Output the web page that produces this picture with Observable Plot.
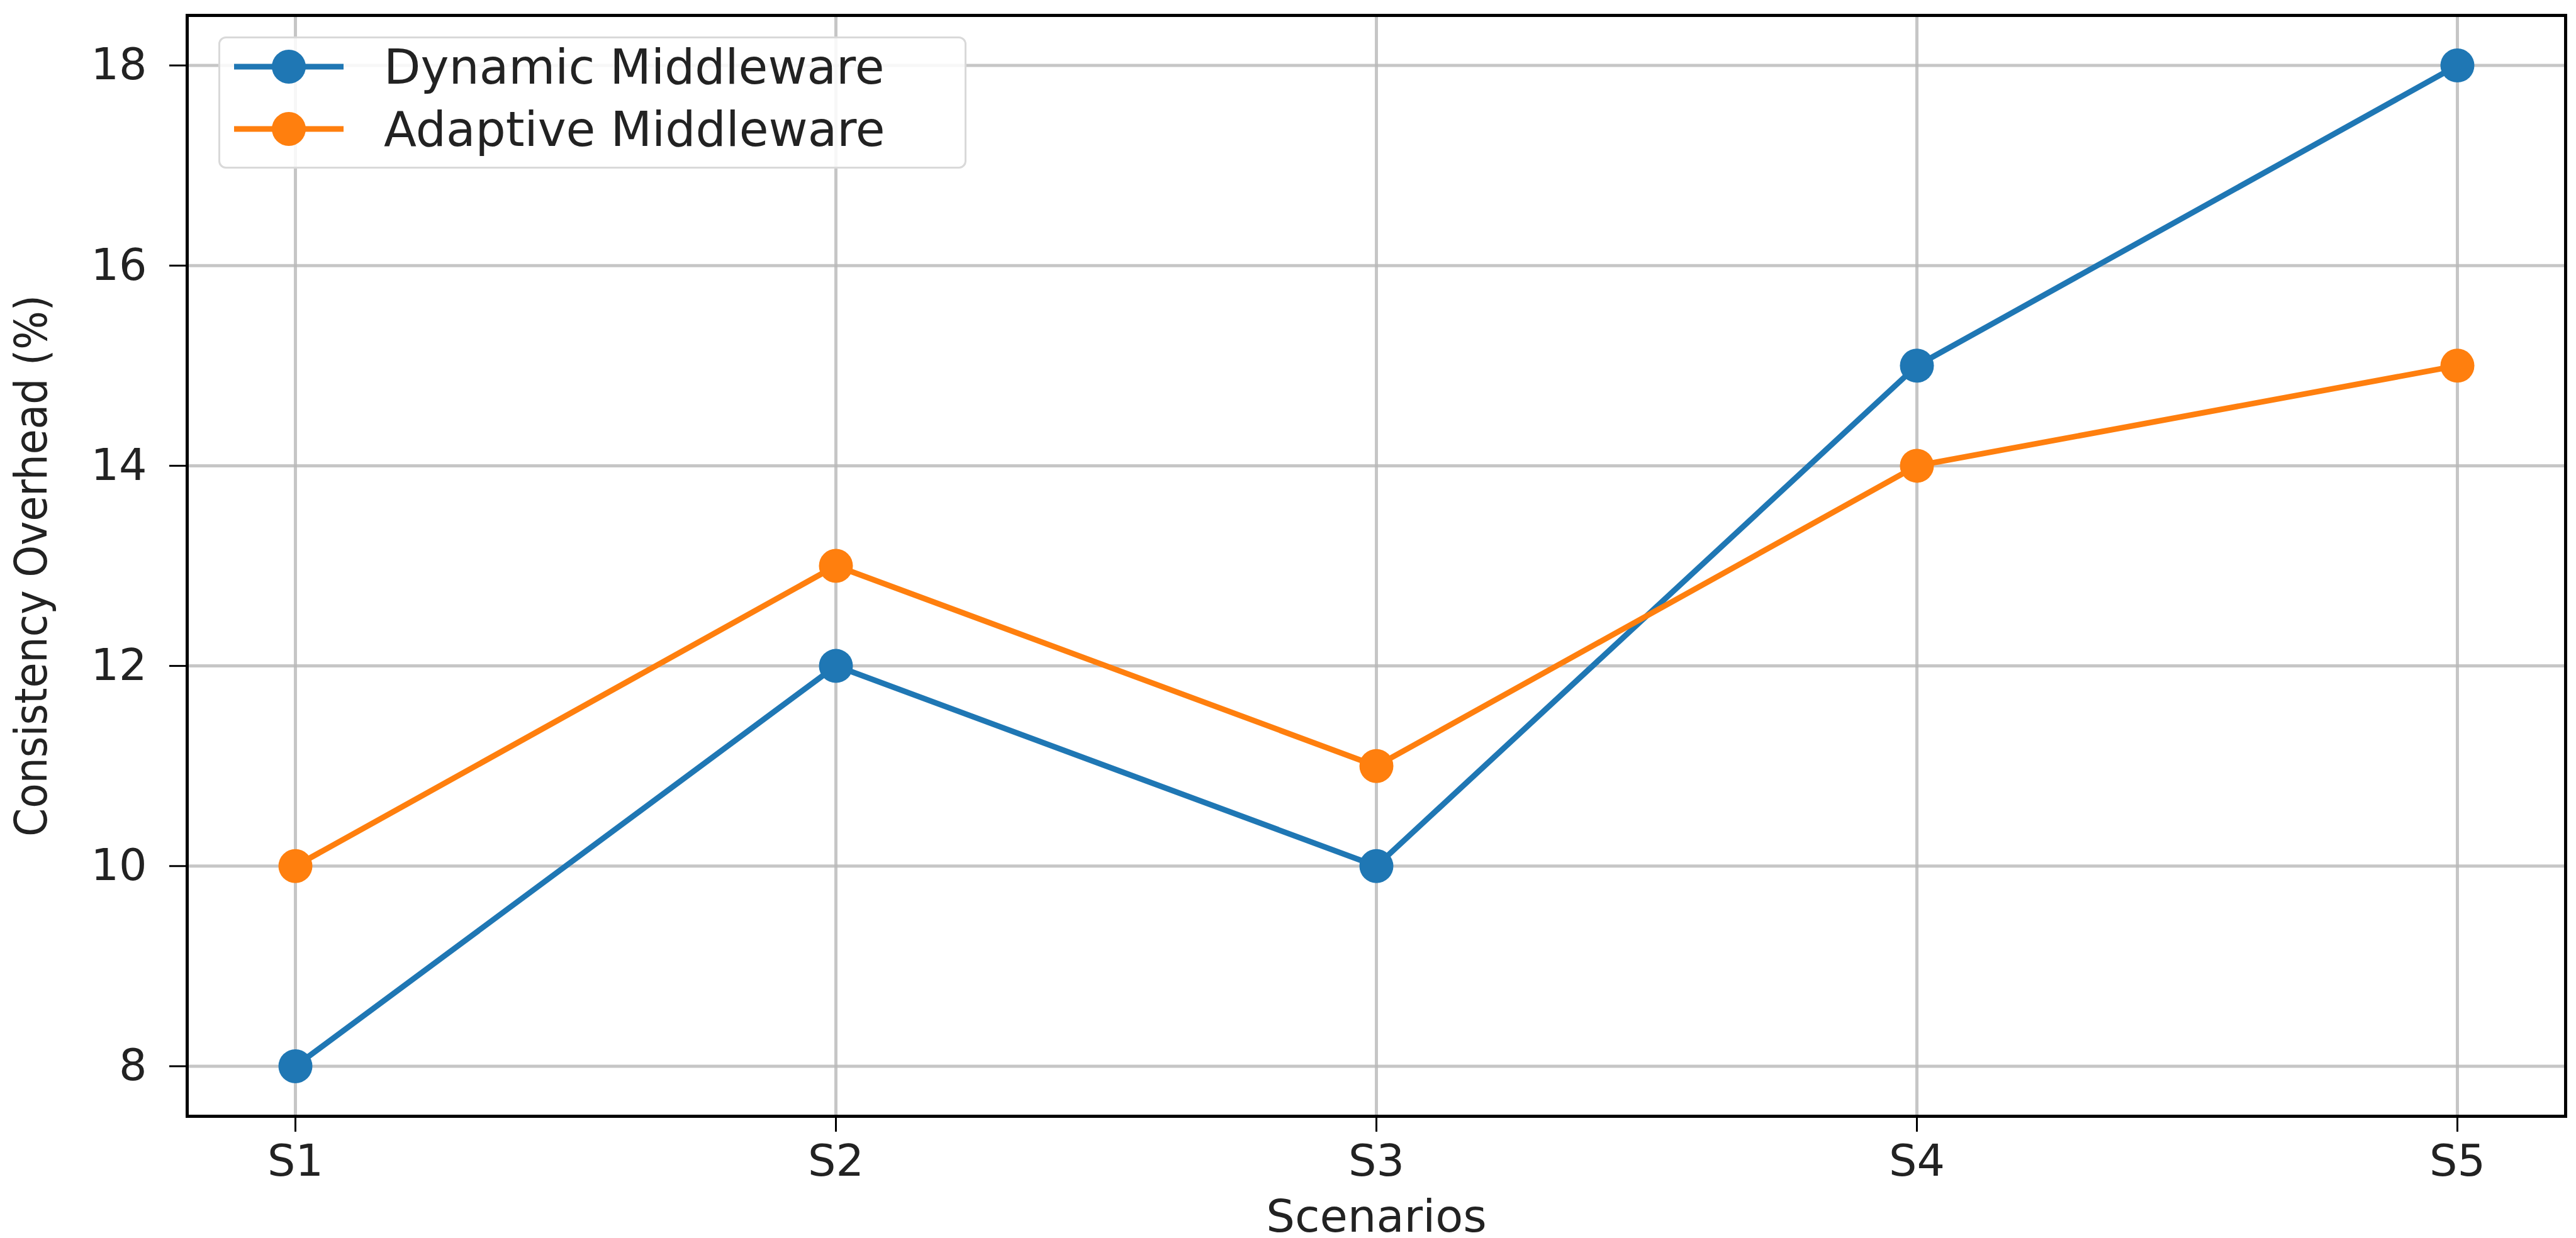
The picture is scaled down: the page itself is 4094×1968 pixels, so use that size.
<!DOCTYPE html>
<html>
<head>
<meta charset="utf-8">
<script src="https://cdn.jsdelivr.net/npm/d3@7"></script>
<script src="https://cdn.jsdelivr.net/npm/@observablehq/plot@0.6"></script>
<style>
  html, body { margin: 0; padding: 0; background: white; }
  #wrap { position: relative; width: 4094px; height: 1968px; }
  #legend {
    position: absolute; left: 347px; top: 58px; width: 1183px; height: 204px;
    border: 3px solid #d9d9d9; border-radius: 12px; background: rgba(255,255,255,0.85);
    font-family: "DejaVu Sans", sans-serif; font-size: 76px; color: #222;
  }
  .entry { position: absolute; left: 0; height: 90px; display: flex; align-items: center; }
  .entry svg { margin-left: 22px; }
  .entry span { margin-left: 64px; white-space: nowrap; }
</style>
</head>
<body>
<div id="wrap"></div>
<script>
const scenarios = ["S1", "S2", "S3", "S4", "S5"];
const dynamicValues = [8, 12, 10, 15, 18];
const adaptiveValues = [10, 13, 11, 14, 15];
const seriesNames = ["Dynamic Middleware", "Adaptive Middleware"];
const seriesColors = ["#1f77b4", "#ff7f0e"];
const yTicks = [8, 10, 12, 14, 16, 18];

const data = [];
scenarios.forEach((s, i) => {
  data.push({scenario: s, value: dynamicValues[i], series: seriesNames[0]});
});
scenarios.forEach((s, i) => {
  data.push({scenario: s, value: adaptiveValues[i], series: seriesNames[1]});
});

const chart = Plot.plot({
  width: 4094,
  height: 1968,
  marginLeft: 297,
  marginRight: 17,
  marginTop: 24,
  marginBottom: 194,
  style: {fontFamily: "DejaVu Sans, sans-serif", fontSize: "70px", color: "#222", background: "white", overflow: "visible"},
  x: {type: "point", domain: scenarios, padding: 0.2, label: null},
  y: {domain: [7.5, 18.5], label: null},
  color: {domain: seriesNames, range: seriesColors},
  marks: [
    Plot.gridX(scenarios, {stroke: "#b8b8b8", strokeOpacity: 0.8, strokeWidth: 5}),
    Plot.gridY(yTicks, {stroke: "#b8b8b8", strokeOpacity: 0.8, strokeWidth: 5}),
    Plot.line(data, {x: "scenario", y: "value", z: "series", stroke: "series", strokeWidth: 9}),
    Plot.dot(data, {x: "scenario", y: "value", fill: "series", r: 27}),
    Plot.frame({stroke: "black", strokeWidth: 5}),
    Plot.axisX(scenarios, {tickSize: 25, tickPadding: 20, strokeWidth: 3, stroke: "black", fontSize: 70, label: null}),
    Plot.axisY(yTicks, {tickSize: 28, tickPadding: 36, strokeWidth: 3, stroke: "black", fontSize: 70, label: null, tickFormat: d => String(d)}),
    Plot.text(["Scenarios"], {frameAnchor: "bottom", dy: 160, lineAnchor: "middle", fontSize: 72, fill: "#222"}),
    Plot.text(["Consistency Overhead (%)"], {frameAnchor: "left", dx: -247, rotate: -90, lineAnchor: "middle", textAnchor: "middle", fontSize: 72, fill: "#222", fontFamily: "DejaVu Sans Condensed, Liberation Sans Narrow, sans-serif"})
  ]
});

const wrap = document.getElementById("wrap");
wrap.appendChild(chart);

const legend = document.createElement("div");
legend.id = "legend";
seriesNames.forEach((name, i) => {
  const e = document.createElement("div");
  e.className = "entry";
  e.style.top = (i === 0 ? 0 : 99) + "px";
  e.style.height = "90px";
  e.innerHTML = `<svg width="174" height="60" viewBox="0 0 174 60"><line x1="0" y1="30" x2="174" y2="30" stroke="${seriesColors[i]}" stroke-width="9"/><circle cx="87" cy="30" r="27" fill="${seriesColors[i]}"/></svg><span>${name}</span>`;
  legend.appendChild(e);
});
wrap.appendChild(legend);
</script>
</body>
</html>
